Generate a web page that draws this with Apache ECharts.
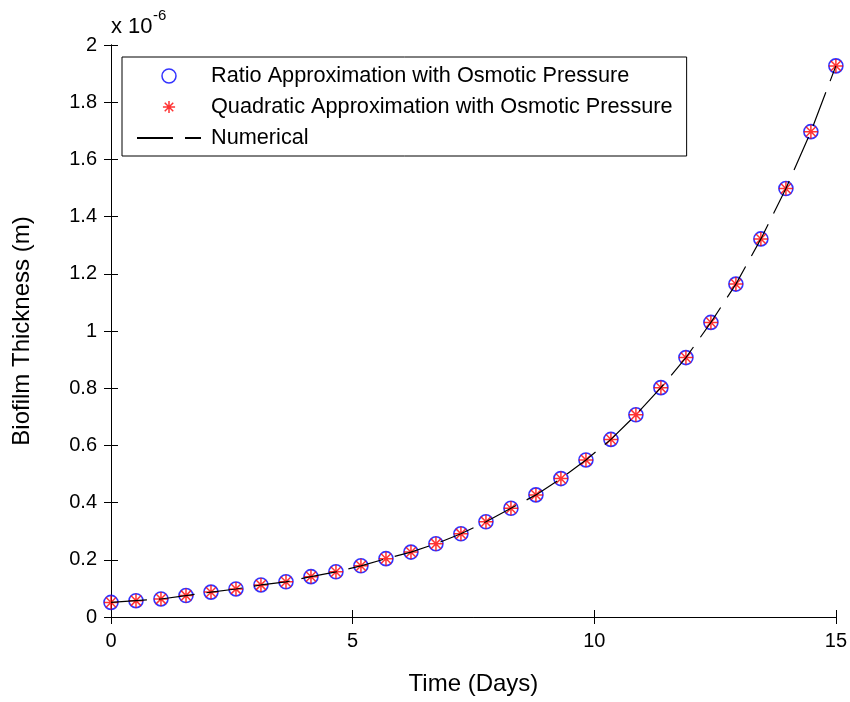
<!DOCTYPE html>
<html>
<head>
<meta charset="utf-8">
<title>Biofilm Thickness</title>
<script src="https://cdn.jsdelivr.net/npm/echarts@6/dist/echarts.min.js"></script>
<style>
  html, body { margin: 0; padding: 0; background: #fff; }
  #chart { width: 850px; height: 702px; }
</style>
</head>
<body>
<div id="chart"></div>
<script>
// time in days (30 samples from 0 to 15)
var days = [0, 0.517, 1.034, 1.552, 2.069, 2.586, 3.103, 3.621, 4.138, 4.655,
  5.172, 5.690, 6.207, 6.724, 7.241, 7.759, 8.276, 8.793, 9.310, 9.828,
  10.345, 10.862, 11.379, 11.897, 12.414, 12.931, 13.448, 13.966, 14.483, 15];

// thickness, in units of 1e-6 m
var ratioApprox = [0.051, 0.057, 0.063, 0.075, 0.087, 0.098, 0.112, 0.123, 0.141, 0.158,
  0.179, 0.204, 0.227, 0.256, 0.291, 0.333, 0.380, 0.427, 0.484, 0.549,
  0.621, 0.707, 0.802, 0.907, 1.030, 1.164, 1.322, 1.498, 1.697, 1.927];
var quadApprox = [0.051, 0.057, 0.063, 0.075, 0.087, 0.098, 0.112, 0.123, 0.141, 0.158,
  0.179, 0.204, 0.227, 0.256, 0.291, 0.333, 0.380, 0.427, 0.484, 0.549,
  0.621, 0.707, 0.802, 0.907, 1.030, 1.164, 1.322, 1.498, 1.697, 1.927];
var numerical = [0.051, 0.057, 0.063, 0.075, 0.087, 0.098, 0.112, 0.123, 0.141, 0.158,
  0.179, 0.204, 0.227, 0.256, 0.291, 0.333, 0.380, 0.427, 0.484, 0.549,
  0.621, 0.707, 0.802, 0.907, 1.030, 1.164, 1.322, 1.498, 1.697, 1.927];

var seriesNames = [
  'Ratio Approximation with Osmotic Pressure',
  'Quadratic Approximation with Osmotic Pressure',
  'Numerical'
];

var FONT = '"Liberation Sans", Arial, sans-serif';
var asterisk = 'path://M0,-1L0,1M-1,0L1,0M-0.7,-0.7L0.7,0.7M-0.7,0.7L0.7,-0.7';
// same star, padded with invisible move points so it draws smaller in the legend
var asteriskSmall = 'path://M-1.15,-1.15M1.15,1.15M0,-1L0,1M-1,0L1,0M-0.7,-0.7L0.7,0.7M-0.7,0.7L0.7,-0.7';

function pairs(xs, ys) {
  var out = [];
  for (var i = 0; i < xs.length; i++) out.push([xs[i], ys[i]]);
  return out;
}

var myChart = echarts.init(document.getElementById('chart'), null, { renderer: 'canvas' });

var frameAxis = {
  axisLine: { show: true, lineStyle: { color: '#000', width: 1 } },
  axisTick: { show: true, inside: true, length: 7, lineStyle: { color: '#000', width: 1 } },
  splitLine: { show: false }
};

var option = {
  backgroundColor: '#fff',
  animation: false,
  grid: { left: 111, right: 12, top: 45, bottom: 85, containLabel: false },
  legend: {
    orient: 'vertical',
    left: 122,
    top: 57,
    padding: [8, 14, 7, 14],
    borderColor: '#000',
    borderWidth: 1,
    backgroundColor: '#fff',
    itemWidth: 64,
    itemHeight: 14,
    itemGap: 9,
    selectedMode: false,
    textStyle: { fontFamily: FONT, fontSize: 21.7, color: '#000', lineHeight: 22, padding: [0, 0, 0, 5] },
    itemStyle: { borderWidth: 1.5 },
    data: [
      { name: seriesNames[0] },
      { name: seriesNames[1], icon: asteriskSmall },
      { name: seriesNames[2], itemStyle: { color: 'transparent', borderColor: 'transparent' } }
    ]
  },
  graphic: [
    { type: 'text', left: 111, top: 16, style: { text: 'x 10', font: '22px ' + FONT, fill: '#000' } },
    { type: 'text', left: 153, top: 8, style: { text: '-6', font: '15px ' + FONT, fill: '#000' } }
  ],
  xAxis: [
    Object.assign({
      type: 'value', position: 'bottom', min: 0, max: 15, interval: 5,
      name: 'Time (Days)', nameLocation: 'middle', nameGap: 55,
      nameTextStyle: { fontFamily: FONT, fontSize: 24, color: '#000' },
      axisLabel: { fontFamily: FONT, fontSize: 20, color: '#000', margin: 14 }
    }, frameAxis),
    Object.assign({
      type: 'value', position: 'top', min: 0, max: 15, interval: 5,
      axisLabel: { show: false }
    }, frameAxis)
  ],
  yAxis: [
    Object.assign({
      type: 'value', position: 'left', min: 0, max: 2, interval: 0.2,
      name: 'Biofilm Thickness (m)', nameLocation: 'middle', nameGap: 77, nameRotate: 90,
      nameTextStyle: { fontFamily: FONT, fontSize: 24, color: '#000' },
      axisLabel: { fontFamily: FONT, fontSize: 20, color: '#000', margin: 14 }
    }, frameAxis),
    Object.assign({
      type: 'value', position: 'right', min: 0, max: 2, interval: 0.2,
      axisLabel: { show: false }
    }, frameAxis)
  ],
  series: [
    {
      name: seriesNames[0],
      type: 'scatter',
      symbol: 'circle',
      symbolSize: 14,
      z: 2,
      itemStyle: { color: 'transparent', borderColor: '#0000ff', borderWidth: 1.6 },
      data: pairs(days, ratioApprox)
    },
    {
      name: seriesNames[1],
      type: 'scatter',
      symbol: asterisk,
      symbolSize: 14,
      z: 3,
      itemStyle: { color: 'transparent', borderColor: '#ff0000', borderWidth: 1.5 },
      data: pairs(days, quadApprox)
    },
    {
      name: seriesNames[2],
      type: 'line',
      symbol: 'none',
      smooth: false,
      z: 4,
      color: '#000',
      lineStyle: { color: '#000', width: 1.2, type: [36, 12] },
      data: pairs(days, numerical)
    }
  ]
};

myChart.setOption(option, true);

window.onresize = function() {
  myChart.resize();
};
</script>
</body>
</html>
